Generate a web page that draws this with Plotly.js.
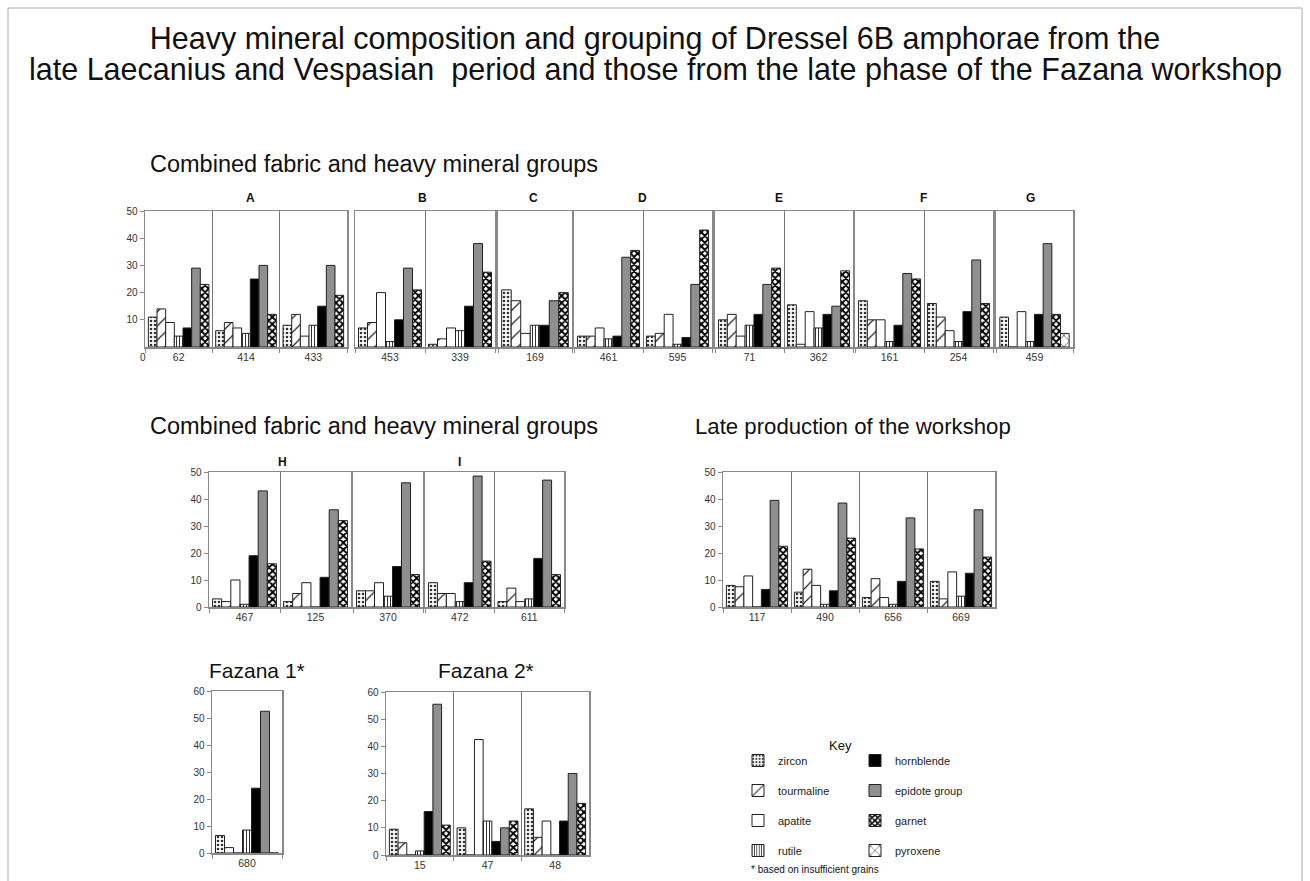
<!DOCTYPE html>
<html>
<head>
<meta charset="utf-8">
<script src="https://cdn.plot.ly/plotly-3.0.1.min.js"></script>
<style>html,body{margin:0;padding:0;background:#fff;}#chart{width:1310px;height:881px;}</style>
</head>
<body>
<div id="chart"></div>
<script>
// ---------- DATA ----------
const minerals = ['zircon','tourmaline','apatite','rutile','hornblende','epidote group','garnet','pyroxene'];

const samplesA = ['62','414','433'];
const valuesA = [[11,14,9,4,7,29,23],[6,9,7,5,25,30,12],[8,12,4,8,15,30,19]];
const samplesB = ['453','339'];
const valuesB = [[7,9,20,2,10,29,21],[1,3,7,6,15,38,27.5]];
const samplesC = ['169'];
const valuesC = [[21,17,5,8,8,17,20]];
const samplesD = ['461','595'];
const valuesD = [[4,4,7,3,4,33,35.5],[4,5,12,1,3.5,23,43]];
const samplesE = ['71','362'];
const valuesE = [[10,12,4,8,12,23,29],[15.5,1,13,7,12,15,28]];
const samplesF = ['161','254'];
const valuesF = [[17,10,10,2,8,27,25],[16,11,6,2,13,32,16]];
const samplesG = ['459'];
const valuesG = [[11,0,13,2,12,38,12,5]];

const samplesH = ['467','125'];
const valuesH = [[3,2,10,1,19,43,16],[2,5,9,0,11,36,32]];
const samples370 = ['370'];
const values370 = [[6,6,9,4,15,46,12]];
const samplesI = ['472','611'];
const valuesI = [[9,5,5,2,9,48.5,17],[2,7,2,3,18,47,12]];

const samplesLate = ['117','490','656','669'];
const valuesLate = [[8,7.5,11.5,0,6.5,39.5,22.5],[5.5,14,8,1,6,38.5,25.5],[3.5,10.5,3.5,1,9.5,33,21.5],[9.5,3,13,4,12.5,36,18.5]];

const samplesFaz1 = ['680'];
const valuesFaz1 = [[6.5,2,0,8.5,24,52.5,0]];
const samplesFaz2 = ['15','47','48'];
const valuesFaz2 = [[9.5,4.5,0,1.5,16,55.5,11],[10,0,42.5,12.5,5,10,12.5],[17,6.5,12.5,0,12.5,30,19]];

const ticks50 = [0,10,20,30,40,50];
const ticksTop = [10,20,30,40,50];
const ticks60 = [0,10,20,30,40,50,60];

// ---------- STYLES / LAYOUT ----------
const W = 1310, H = 881;
const fx = px => px / W;
const fy = py => 1 - py / H;
const outline = {color:'#222', width:1};
const styles = [
  {color:'#fff', line:outline, pattern:{shape:'.', fgcolor:'#333', bgcolor:'#fff', size:4, solidity:0.35}},
  {color:'#fff', line:outline, pattern:{shape:'/', fgcolor:'#222', bgcolor:'#fff', size:10, solidity:0.12}},
  {color:'#fff', line:outline},
  {color:'#fff', line:outline, pattern:{shape:'|', fgcolor:'#333', bgcolor:'#fff', size:3, solidity:0.35}},
  {color:'#000', line:outline},
  {color:'#8f8f8f', line:outline},
  {color:'#fff', line:outline, pattern:{shape:'x', fgcolor:'#000', bgcolor:'#fff', size:5, solidity:0.62}},
  {color:'#fff', line:outline, pattern:{shape:'x', fgcolor:'#222', bgcolor:'#fff', size:8, solidity:0.15}}
];

const panels = [
  {s:samplesA, v:valuesA, x0:145, x1:347, y0:211, y1:347, ymax:50, yt:ticksTop, label:'A', lx:250, ly:198},
  {s:samplesB, v:valuesB, x0:355, x1:495, y0:211, y1:347, ymax:50, yt:null, label:'B', lx:422, ly:198},
  {s:samplesC, v:valuesC, x0:498, x1:572, y0:211, y1:347, ymax:50, yt:null, label:'C', lx:533, ly:198},
  {s:samplesD, v:valuesD, x0:574, x1:712, y0:211, y1:347, ymax:50, yt:null, label:'D', lx:642, ly:198},
  {s:samplesE, v:valuesE, x0:715, x1:853, y0:211, y1:347, ymax:50, yt:null, label:'E', lx:779, ly:198},
  {s:samplesF, v:valuesF, x0:855, x1:993, y0:211, y1:347, ymax:50, yt:null, label:'F', lx:923, ly:198},
  {s:samplesG, v:valuesG, x0:996, x1:1073, y0:211, y1:347, ymax:50, yt:null, label:'G', lx:1030, ly:198},
  {s:samplesH, v:valuesH, x0:209, x1:351, y0:472, y1:607, ymax:50, yt:ticks50, label:'H', lx:282, ly:462},
  {s:samples370, v:values370, x0:353, x1:423, y0:472, y1:607, ymax:50, yt:null, label:'', lx:0, ly:0},
  {s:samplesI, v:valuesI, x0:425, x1:564, y0:472, y1:607, ymax:50, yt:null, label:'I', lx:459, ly:462},
  {s:samplesLate, v:valuesLate, x0:723, x1:995, y0:472, y1:607, ymax:50, yt:ticks50, label:'', lx:0, ly:0},
  {s:samplesFaz1, v:valuesFaz1, x0:212, x1:282, y0:691, y1:853, ymax:60, yt:ticks60, label:'', lx:0, ly:0},
  {s:samplesFaz2, v:valuesFaz2, x0:386, x1:589, y0:692, y1:855, ymax:60, yt:ticks60, label:'', lx:0, ly:0}
];

const FONT = 'Liberation Sans, Arial, sans-serif';
const traces = [];
const layout = {
  width: W, height: H,
  margin: {l:0, r:0, t:0, b:0},
  paper_bgcolor: '#fff', plot_bgcolor: '#fff',
  font: {family: FONT, color: '#222'},
  barmode: 'group', bargap: 0.1, bargroupgap: 0,
  showlegend: true,
  title: {text: 'Heavy mineral composition and grouping of Dressel 6B amphorae from the',
          x: 0.5, xanchor: 'center', y: fy(38), yanchor: 'middle', yref: 'container',
          font: {family: FONT, size: 30.5, color: '#111'}},
  annotations: [],
  shapes: [
    {type:'rect', xref:'paper', yref:'paper', x0:fx(8), x1:fx(1302), y0:-0.02, y1:fy(8), line:{color:'#aaa', width:1}}
  ],
  legend: {x: fx(738), y: fy(746), xanchor:'left', yanchor:'top', traceorder:'grouped', tracegroupgap: 11,
           font:{family:FONT, size:11, color:'#222'}, bgcolor:'rgba(0,0,0,0)'},
  legend2: {x: fx(855), y: fy(746), xanchor:'left', yanchor:'top', traceorder:'grouped', tracegroupgap: 11,
           font:{family:FONT, size:11, color:'#222'}, bgcolor:'rgba(0,0,0,0)'}
};

const seen = {};
panels.forEach((p, i) => {
  const k = i + 1;
  const xs = k === 1 ? 'x' : 'x' + k;
  const ys = k === 1 ? 'y' : 'y' + k;
  const nMin = p.v[0].length;
  for (let m = 0; m < nMin; m++) {
    const name = minerals[m];
    const first = !seen[name];
    seen[name] = true;
    traces.push({
      type: 'bar', name: name, legendgroup: name, showlegend: first,
      legend: m < 4 ? 'legend' : 'legend2',
      x: p.s, y: p.v.map(r => r[m]),
      xaxis: xs, yaxis: ys,
      marker: styles[m], hoverinfo: 'name+y'
    });
  }
  layout['xaxis' + (k === 1 ? '' : k)] = {
    domain: [fx(p.x0), fx(p.x1)], anchor: ys, type: 'category',
    tickson: 'boundaries', ticks: 'outside', ticklen: 4, tickcolor: '#888',
    showgrid: true, gridcolor: '#777', gridwidth: 1,
    showline: true, mirror: true, linecolor: '#888', linewidth: 1.5,
    zeroline: false, tickfont: {family: FONT, size: 10.5, color: '#333'}, fixedrange: true
  };
  layout['yaxis' + (k === 1 ? '' : k)] = {
    domain: [fy(p.y1), fy(p.y0)], anchor: xs, range: [0, p.ymax],
    showline: true, mirror: true, linecolor: '#888', linewidth: 1.5,
    showgrid: false, zeroline: false, fixedrange: true,
    ticks: p.yt ? 'outside' : '', ticklen: 4, tickcolor: '#888',
    showticklabels: !!p.yt, tickvals: p.yt || [],
    tickfont: {family: FONT, size: 10, color: '#333'}
  };
  if (p.label) {
    layout.annotations.push({text: '<b>' + p.label + '</b>', xref:'paper', yref:'paper', x: fx(p.lx), y: fy(p.ly),
      xanchor:'center', yanchor:'middle', showarrow:false, font:{family:FONT, size:12, color:'#111'}});
  }
});

const txt = (t, x, y, size, xanchor) => ({text: t, xref:'paper', yref:'paper', x: fx(x), y: fy(y),
  xanchor: xanchor || 'left', yanchor:'middle', showarrow:false, font:{family:FONT, size:size, color:'#111'}});
layout.annotations.push(
  txt('late Laecanius and Vespasian  period and those from the late phase of the Fazana workshop', 655, 70, 30.5, 'center'),
  txt('Combined fabric and heavy mineral groups', 148, 164, 23.5),
  txt('Combined fabric and heavy mineral groups', 148, 426, 23.5),
  txt('Late production of the workshop', 693, 426, 22.2),
  txt('Fazana 1*', 207, 670, 21),
  txt('Fazana 2*', 436, 670, 21),
  txt('Key', 840, 745, 13, 'center'),
  txt('* based on insufficient grains', 749, 869, 10),
  Object.assign(txt('0', 143, 357, 10, 'center'), {font:{family:FONT, size:10, color:'#333'}})
);

Plotly.newPlot('chart', traces, layout, {staticPlot: true, displayModeBar: false});
</script>
</body>
</html>
